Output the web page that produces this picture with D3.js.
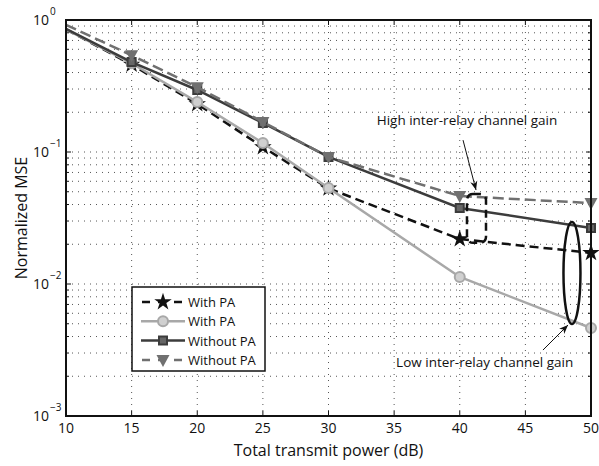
<!DOCTYPE html>
<html>
<head>
<meta charset="utf-8">
<script src="https://cdn.jsdelivr.net/npm/d3@7"></script>
<style>
  body { margin: 0; background: #fff; }
  text { font-family: "Open Sans", "Liberation Sans", sans-serif; fill: #111; }
</style>
</head>
<body>
<div id="chart"></div>
<script>
// data
const power = [10, 15, 20, 25, 30, 40, 50];
const withPAHigh = [0.85, 0.46, 0.231, 0.109, 0.053, 0.0219, 0.0172];
const withPALow = [0.85, 0.47, 0.239, 0.117, 0.0533, 0.0113, 0.00464];
const withoutPALow = [0.855, 0.48, 0.295, 0.166, 0.0917, 0.0377, 0.0266];
const withoutPAHigh = [0.92, 0.54, 0.31, 0.169, 0.0917, 0.0464, 0.041];
const seriesNames = ["With PA", "With PA", "Without PA", "Without PA"];
const xTicks = [10, 15, 20, 25, 30, 35, 40, 45, 50];
const yTicks = [1e-3, 1e-2, 1e-1, 1];
const yExps = ["\u22123", "\u22122", "\u22121", "0"];

const W = 599, H = 466;
const margin = { top: 20, right: 8, bottom: 50, left: 66 };
const width = W - margin.left - margin.right;
const height = H - margin.top - margin.bottom;

const svg = d3.select("#chart").append("svg")
  .attr("width", W).attr("height", H);

const g = svg.append("g")
  .attr("transform", `translate(${margin.left},${margin.top})`);

const x = d3.scaleLinear().domain([10, 50]).range([0, width]);
const y = d3.scaleLog().domain([1e-3, 1]).range([height, 0]);

// minor decade values for grid
const minorY = [];
for (let e = -3; e < 0; e++) {
  for (let k = 2; k <= 9; k++) minorY.push(k * Math.pow(10, e));
}

// dotted grid
const grid = g.append("g").attr("stroke", "#555").attr("stroke-width", 1)
  .attr("stroke-dasharray", "1,5");
grid.selectAll(".gx").data(xTicks.slice(1, -1)).enter().append("line")
  .attr("x1", d => x(d)).attr("x2", d => x(d))
  .attr("y1", 0).attr("y2", height);
grid.selectAll(".gy").data(minorY.concat([1e-2, 1e-1])).enter().append("line")
  .attr("x1", 0).attr("x2", width)
  .attr("y1", d => y(d)).attr("y2", d => y(d));

// inside ticks
const ticks = g.append("g").attr("stroke", "#111").attr("stroke-width", 1);
xTicks.forEach(v => {
  ticks.append("line").attr("x1", x(v)).attr("x2", x(v)).attr("y1", height).attr("y2", height - 5);
  ticks.append("line").attr("x1", x(v)).attr("x2", x(v)).attr("y1", 0).attr("y2", 5);
});
minorY.forEach(v => {
  ticks.append("line").attr("x1", 0).attr("x2", 3).attr("y1", y(v)).attr("y2", y(v));
  ticks.append("line").attr("x1", width).attr("x2", width - 3).attr("y1", y(v)).attr("y2", y(v));
});
yTicks.forEach(v => {
  ticks.append("line").attr("x1", 0).attr("x2", 5).attr("y1", y(v)).attr("y2", y(v));
  ticks.append("line").attr("x1", width).attr("x2", width - 5).attr("y1", y(v)).attr("y2", y(v));
});

// tick labels
g.selectAll(".xl").data(xTicks).enter().append("text")
  .attr("x", d => x(d)).attr("y", height + 17)
  .attr("text-anchor", "middle").attr("font-size", 14)
  .text(d => d);

yTicks.forEach((v, i) => {
  g.append("text").attr("x", -17).attr("y", y(v) + 5)
    .attr("text-anchor", "end").attr("font-size", 14).text("10");
  g.append("text").attr("x", -16).attr("y", y(v) - 5)
    .attr("font-size", 10).text(yExps[i]);
});

// axis titles
svg.append("text").attr("x", margin.left + width / 2).attr("y", 456)
  .attr("text-anchor", "middle").attr("font-size", 16)
  .text("Total transmit power (dB)");
svg.append("text")
  .attr("transform", `translate(27,${margin.top + height / 2}) rotate(-90)`)
  .attr("text-anchor", "middle").attr("font-size", 16)
  .text("Normalized MSE");

// markers
const starPath = d3.symbol().type(d3.symbolStar).size(95)();
const triPath = "M-6.5,-5L6.5,-5L0,7Z";
const squarePath = "M-4,-4H4V4H-4Z";

const styles = [
  { values: withPAHigh, color: "#111", dash: "9,5", marker: "star" },
  { values: withPALow, color: "#a8a8a8", dash: null, marker: "circle" },
  { values: withoutPALow, color: "#3c3c3c", dash: null, marker: "square" },
  { values: withoutPAHigh, color: "#707070", dash: "11,5", marker: "tri" }
];

function drawMarker(sel, s) {
  if (s.marker === "star") {
    sel.append("path").attr("d", starPath).attr("fill", s.color);
  } else if (s.marker === "circle") {
    sel.append("circle").attr("r", 5).attr("fill", "#d0d0d0")
      .attr("stroke", s.color).attr("stroke-width", 2);
  } else if (s.marker === "square") {
    sel.append("path").attr("d", squarePath).attr("fill", "#666")
      .attr("stroke", s.color).attr("stroke-width", 2);
  } else {
    sel.append("path").attr("d", triPath).attr("fill", s.color);
  }
}

const line = d3.line().x(d => x(d[0])).y(d => y(d[1]));

const plot = g.append("g");
styles.forEach(s => {
  const pts = power.map((p, i) => [p, s.values[i]]);
  plot.append("path").datum(pts)
    .attr("d", line).attr("fill", "none")
    .attr("stroke", s.color).attr("stroke-width", 2.5)
    .attr("stroke-dasharray", s.dash);
  // no marker drawn at the first (clipped) point
  pts.slice(1).forEach(p => {
    const m = plot.append("g").attr("transform", `translate(${x(p[0])},${y(p[1])})`);
    drawMarker(m, s);
  });
});

// frame
g.append("rect").attr("width", width).attr("height", height)
  .attr("fill", "none").attr("stroke", "#111").attr("stroke-width", 2);

// annotations
const ann = g.append("g");
ann.append("rect")
  .attr("x", x(40.55)).attr("y", y(0.048))
  .attr("width", x(42.0) - x(40.55)).attr("height", y(0.0205) - y(0.048))
  .attr("rx", 6).attr("fill", "none").attr("stroke", "#111")
  .attr("stroke-width", 2.5).attr("stroke-dasharray", "8,5");
ann.append("ellipse")
  .attr("cx", x(48.55)).attr("cy", (y(0.0295) + y(0.00498)) / 2)
  .attr("rx", 8.5).attr("ry", (y(0.00498) - y(0.0295)) / 2)
  .attr("fill", "none").attr("stroke", "#111").attr("stroke-width", 2.5);

svg.append("defs").append("marker").attr("id", "arr")
  .attr("viewBox", "0 0 10 10").attr("refX", 10).attr("refY", 5)
  .attr("markerWidth", 9).attr("markerHeight", 9).attr("orient", "auto")
  .attr("markerUnits", "userSpaceOnUse")
  .append("path").attr("d", "M0,1L10,5L0,9L3,5Z").attr("fill", "#111");

ann.append("line")
  .attr("x1", x(40.25)).attr("y1", y(0.123)).attr("x2", x(41.24)).attr("y2", y(0.0515))
  .attr("stroke", "#111").attr("stroke-width", 1).attr("marker-end", "url(#arr)");
ann.append("text").attr("x", x(40.55)).attr("y", y(0.16))
  .attr("text-anchor", "middle").attr("font-size", 13.5)
  .text("High inter-relay channel gain");

ann.append("line")
  .attr("x1", x(46.34)).attr("y1", y(0.00316)).attr("x2", x(48.25)).attr("y2", y(0.00489))
  .attr("stroke", "#111").attr("stroke-width", 1).attr("marker-end", "url(#arr)");
ann.append("text").attr("x", x(41.9)).attr("y", y(0.00235))
  .attr("text-anchor", "middle").attr("font-size", 13.5)
  .text("Low inter-relay channel gain");

// legend
const leg = svg.append("g");
leg.append("rect").attr("x", 132).attr("y", 287).attr("width", 133).attr("height", 84)
  .attr("fill", "#fff").attr("stroke", "#111").attr("stroke-width", 1.5);
styles.forEach((s, i) => {
  const ly = 302 + i * 19.3;
  leg.append("line").attr("x1", 141).attr("x2", 185).attr("y1", ly).attr("y2", ly)
    .attr("stroke", s.color).attr("stroke-width", 2.5)
    .attr("stroke-dasharray", s.dash ? "8,8" : null)
    .attr("stroke-dashoffset", s.dash ? -1 : null);
  const m = leg.append("g").attr("transform", `translate(163,${ly})`);
  drawMarker(m, s);
  leg.append("text").attr("x", 188).attr("y", ly + 5)
    .attr("font-size", 13).text(seriesNames[i]);
});
</script>
</body>
</html>
